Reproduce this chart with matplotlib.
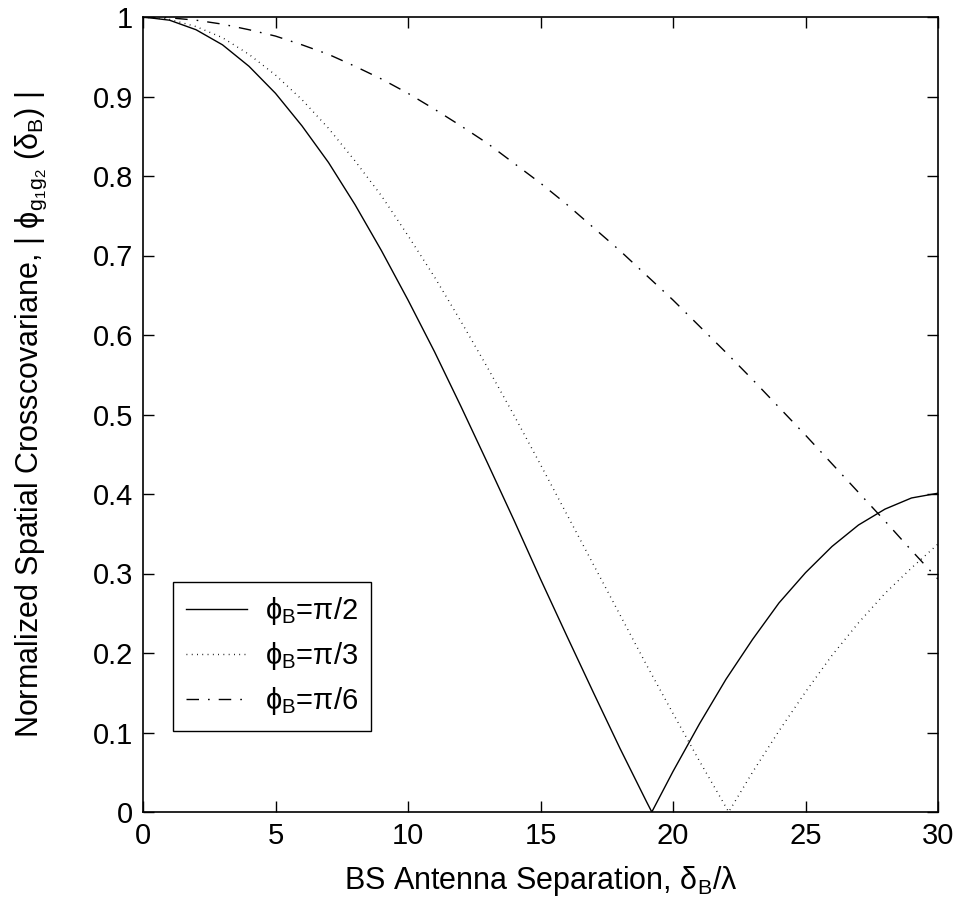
import numpy as np
import matplotlib
matplotlib.use('Agg')
import matplotlib.pyplot as plt

plt.rcParams['font.family'] = ['Liberation Sans', 'DejaVu Sans']
plt.rcParams['mathtext.fontset'] = 'custom'
plt.rcParams['mathtext.rm'] = 'Liberation Sans'
plt.rcParams['mathtext.it'] = 'Liberation Sans'
plt.rcParams['mathtext.bf'] = 'Liberation Sans:bold'

# values (separation in wavelengths)
sep_half = [0, 1, 2, 3, 4, 5, 6, 7, 8, 9, 10, 11, 12, 13, 14, 15, 16, 17, 18, 19, 19.2,
            20, 21, 22, 23, 24, 25, 26, 27, 28, 29, 30]
cov_half = [1.0, 0.996, 0.984, 0.965, 0.938, 0.904, 0.863, 0.817, 0.764, 0.706, 0.644,
            0.579, 0.510, 0.439, 0.367, 0.293, 0.221, 0.150, 0.080, 0.013, 0.0,
            0.051, 0.111, 0.167, 0.217, 0.263, 0.301, 0.334, 0.361, 0.381, 0.395, 0.401]

sep_third = [0, 1, 2, 3, 4, 5, 6, 7, 8, 9, 10, 11, 12, 13, 14, 15, 16, 17, 18, 19, 20,
             21, 22, 22.1, 23, 24, 25, 26, 27, 28, 29, 30]
cov_third = [1.0, 0.997, 0.988, 0.974, 0.953, 0.927, 0.896, 0.860, 0.819, 0.775, 0.725,
             0.673, 0.617, 0.559, 0.499, 0.437, 0.374, 0.311, 0.248, 0.185, 0.124,
             0.064, 0.006, 0.0, 0.050, 0.102, 0.151, 0.197, 0.238, 0.275, 0.307, 0.337]

sep_sixth = [0, 1, 2, 3, 4, 5, 6, 7, 8, 9, 10, 11, 12, 13, 14, 15, 16, 17, 18, 19, 20,
             21, 22, 23, 24, 25, 26, 27, 28, 29, 30]
cov_sixth = [1.0, 0.999, 0.996, 0.991, 0.984, 0.976, 0.965, 0.953, 0.938, 0.922, 0.904,
             0.884, 0.863, 0.841, 0.816, 0.791, 0.764, 0.735, 0.706, 0.675, 0.644,
             0.611, 0.578, 0.544, 0.509, 0.474, 0.438, 0.402, 0.366, 0.329, 0.293]

labels = [r'$\mathregular{ϕ_B}$=π/2', r'$\mathregular{ϕ_B}$=π/3', r'$\mathregular{ϕ_B}$=π/6']

fig = plt.figure(figsize=(9.59, 9.19), dpi=100)
ax = fig.add_axes([143 / 959, 107 / 919, 795 / 959, 795 / 919])

ax.plot(sep_half, cov_half, color='black', lw=1.0, label=labels[0])
ax.plot(sep_third, cov_third, color='black', lw=1.0, linestyle=(0, (0.6, 3.2)), label=labels[1])
ax.plot(sep_sixth, cov_sixth, color='black', lw=1.0, linestyle=(0, (9, 6.5, 1.2, 6.5)), label=labels[2])

ax.set_xlim(0, 30)
ax.set_ylim(0, 1)
ax.set_xticks(np.arange(0, 31, 5))
ax.set_yticks(np.arange(0, 1.01, 0.1))
ax.set_yticklabels(['0', '0.1', '0.2', '0.3', '0.4', '0.5', '0.6', '0.7', '0.8', '0.9', '1'])
ax.tick_params(direction='in', length=8, width=1, top=True, right=True, labelsize=21, pad=7)
for s in ax.spines.values():
    s.set_linewidth(1.2)

ax.set_xlabel(r'BS Antenna Separation, $\mathregular{δ_B}$/λ', fontsize=22, labelpad=10)
ax.set_ylabel(r'Normalized Spatial Crosscovariane, | $\mathregular{ϕ_{g_1g_2}}$ ($\mathregular{δ_B}$) |',
              fontsize=22)
ax.yaxis.set_label_coords(-0.118, 0.5)

leg = ax.legend(loc='upper left', bbox_to_anchor=(30 / 795, 230 / 795), borderaxespad=0,
                fontsize=21, handlelength=2.1, handletextpad=0.6, labelspacing=0.45,
                borderpad=0.45, fancybox=False, edgecolor='black', framealpha=1)
leg.get_frame().set_linewidth(1.0)

fig.savefig('out.png', dpi=100)
